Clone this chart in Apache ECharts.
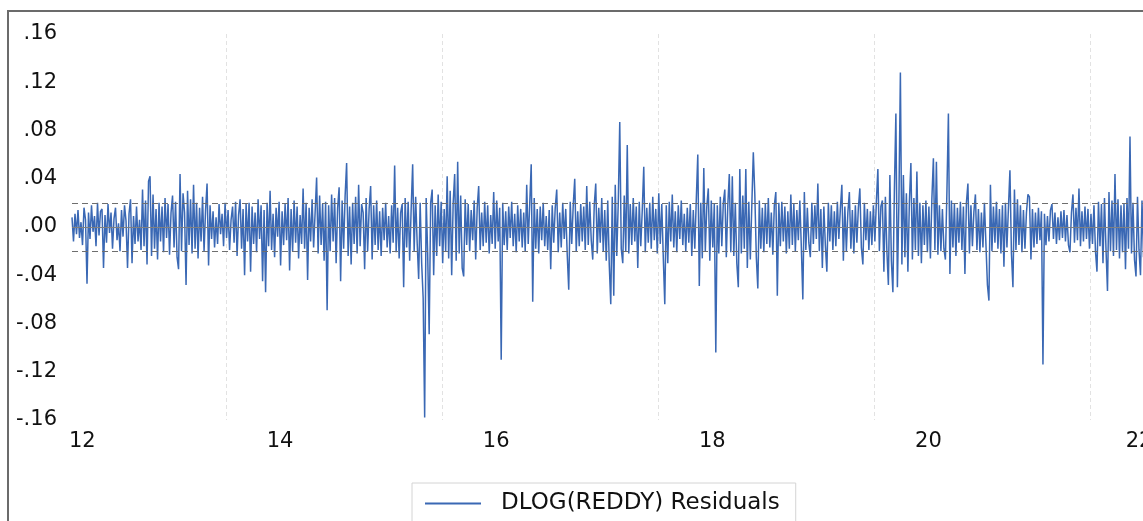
<!DOCTYPE html>
<html>
<head>
<meta charset="utf-8">
<script src="https://cdn.jsdelivr.net/npm/echarts@6/dist/echarts.min.js"></script>
<style>
  html, body { margin: 0; padding: 0; background: #fff; }
  #chart { width: 1143px; height: 521px; }
</style>
</head>
<body>
<div id="chart"></div>
<script>
// residuals, one value every ~3.5 trading days
const residuals = [
  .008,-.012,.011,-.006,.014,-.009,.004,-.015,.016,.006,-.047,.012,-.01,.018,-.004,.009,-.016,.02,-.007,.013,
  .015,-.034,.01,-.013,.019,-.005,.012,-.018,.007,.016,-.011,.003,-.02,.014,-.008,.018,.005,-.034,.011,.023,
  -.03,.009,-.014,.017,-.012,.006,-.019,.031,-.016,.022,-.031,.038,.042,-.024,.027,-.018,.015,-.027,.02,-.012,
  .017,-.021,.024,-.009,.019,-.023,.012,.026,-.017,.021,-.025,-.035,.044,-.02,.028,.012,-.048,.03,-.015,.023,
  -.022,.035,-.018,.02,-.026,.016,-.012,.025,-.02,.014,.036,-.032,.018,-.01,.013,-.017,.008,-.014,.019,-.006,
  .011,-.016,.02,-.009,.014,-.019,.006,.017,-.013,.021,-.024,.01,.023,-.018,.015,-.04,.019,-.012,.02,-.037,
  .017,-.014,.012,-.021,.023,-.01,.018,-.045,.014,-.054,.02,-.016,.03,-.019,.011,-.025,.016,-.008,.021,-.032,
  .013,-.015,.019,-.011,.024,-.036,.015,-.02,.022,-.013,.017,-.026,.01,-.014,.032,-.018,.02,-.044,.016,-.012,
  .023,-.017,.012,.041,-.022,.026,-.015,.019,-.028,.021,-.069,.018,-.02,.027,-.012,.024,-.03,.016,.033,-.045,
  .022,-.018,.026,.053,-.024,.017,-.031,.02,-.014,.025,-.022,.035,-.016,.019,.012,-.035,.024,-.02,.015,.034,
  -.027,.018,-.015,.022,-.019,.013,-.024,.016,-.011,.02,-.017,.009,-.022,.018,-.013,.051,-.021,.016,-.026,.012,
  .019,-.05,.024,-.017,.021,-.028,.015,.052,-.02,.025,-.013,-.043,.02,-.03,-.059,-.158,.024,-.022,-.089,.02,
  .031,-.04,.018,-.024,.027,-.016,.021,-.03,.015,-.02,.042,-.026,.03,-.04,.02,.044,-.028,.054,-.022,.026,
  -.034,-.041,.023,-.015,.019,-.02,.014,-.011,.022,-.027,.016,.034,-.019,.012,-.016,.021,-.013,.018,-.022,.01,
  -.014,.029,-.018,.022,-.012,.016,-.11,.02,-.015,.013,-.019,.017,-.009,.021,-.016,.011,-.021,.018,-.012,.015,
  -.017,.012,-.02,.035,-.014,.019,.052,-.062,.024,-.018,.015,-.022,.017,-.011,.02,-.016,.009,-.019,.014,-.035,
  .018,-.013,.016,.031,-.021,.012,-.017,.02,-.01,.015,-.023,-.052,.021,-.014,.018,.04,-.02,.013,-.016,.019,
  -.012,.017,-.019,.034,-.015,.021,-.011,-.027,.018,.036,-.022,.016,-.013,.024,-.02,.014,-.028,.022,-.031,-.064,
  .025,-.057,.035,-.024,.02,.087,-.018,-.03,.026,-.02,.068,-.022,.019,-.015,.024,-.012,.017,-.034,.021,-.016,
  .014,.05,-.021,.016,-.013,.02,-.018,.025,-.011,.015,-.022,.028,-.014,.019,-.025,-.064,.018,-.03,.021,-.012,
  .027,-.017,.013,-.021,.018,-.01,.022,-.015,.011,-.02,.016,-.013,.019,-.024,.014,-.018,.023,.06,-.049,.02,
  -.026,.049,-.02,.017,.032,-.028,.022,-.017,.019,-.104,.018,-.022,.025,-.016,.02,.031,-.025,.018,.044,-.021,
  .042,-.024,.02,-.03,-.05,.048,-.022,.026,-.018,.048,-.034,.021,-.027,.018,.062,.027,-.025,-.051,.022,-.018,
  .016,-.021,.019,-.014,.024,-.017,.012,-.023,.018,.029,-.057,.02,-.016,.021,-.012,.017,-.022,.013,-.018,.027,
  -.015,.019,-.02,.014,-.011,.022,-.017,-.06,.029,-.019,.016,-.013,-.025,.02,-.014,.018,-.01,.036,-.02,.015,
  -.034,.017,-.015,-.037,.02,-.012,.018,-.019,.013,-.016,.021,-.01,.015,.035,-.028,.017,-.02,.012,.029,-.018,
  .014,-.022,.018,-.013,.016,.032,-.017,-.031,.02,-.011,.015,-.019,.013,-.015,.018,-.012,.021,.048,-.02,.017,
  .022,-.037,.025,-.02,-.048,.043,-.028,-.054,.03,.094,-.05,.02,.128,-.031,.043,-.025,.028,-.037,.021,.053,
  -.027,.024,-.019,.046,-.024,.02,-.03,.018,-.015,.022,-.021,.017,-.026,.024,.057,-.019,.054,-.023,.018,-.02,
  .015,-.018,-.027,.029,.094,-.039,.022,-.017,.019,-.024,.016,-.013,.021,-.019,.017,-.039,.02,.036,-.022,.018,
  -.016,.013,.027,-.019,.015,-.021,.012,-.017,.02,-.014,-.048,-.061,.035,-.02,.017,-.013,.021,-.018,.015,-.022,
  .018,-.033,.02,-.017,.016,.047,-.022,-.05,.031,-.019,.023,-.015,.018,-.021,.014,-.018,.012,.027,.025,-.027,
  .015,-.017,.012,-.014,.016,-.011,.013,-.114,.011,-.015,.009,-.012,.014,.019,-.01,.012,-.014,.008,-.011,.013,
  -.009,.014,-.012,.01,-.015,-.021,.012,.027,-.013,.016,-.011,.032,-.016,.013,-.012,.017,-.01,.015,-.018,.011,
  -.014,.018,-.02,-.037,.021,-.016,.019,-.03,.024,-.018,-.053,.029,-.02,.022,-.024,.044,-.019,.023,-.026,.018,
  -.021,.019,-.035,.024,-.018,.075,-.022,.02,-.027,-.041,.025,-.019,-.04,.022,-.025,.018,-.02,.016
];

// sample runs from early 2012 to mid 2022
const startYear = 2012.574;
const yearStep = 0.013889;

// +/- one standard error band
const seBand = [0.0174, -0.0174];

const xLabelYears = [2012.67, 2014.5, 2016.5, 2018.5, 2020.5, 2022.45];
const xTickLabels = ['12', '14', '16', '18', '20', '22'];
const gridYears = [2014, 2016, 2018, 2020, 2022];

const yTickValues = [-0.16, -0.12, -0.08, -0.04, 0, 0.04, 0.08, 0.12, 0.16];
const yTickLabels = ['-.16', '-.12', '-.08', '-.04', '.00', '.04', '.08', '.12', '.16'];

const seriesName = 'DLOG(REDDY) Residuals';
const lineColor = '#3a68b4';
const font = 'DejaVu Sans';

const chart = echarts.init(document.getElementById('chart'));

const points = residuals.map((v, i) => [startYear + i * yearStep, v]);

const option = {
  animation: false,
  backgroundColor: '#fff',
  grid: {
    left: 72,
    right: -5,
    top: 34,
    bottom: 101,
    containLabel: false,
    outerBoundsMode: 'none'
  },
  xAxis: {
    type: 'value',
    min: startYear,
    max: startYear + (residuals.length - 1) * yearStep,
    axisLine: { show: false },
    axisTick: { show: false, customValues: gridYears },
    splitLine: {
      show: true,
      lineStyle: { color: '#e2e2e2', type: [4, 3], width: 1 }
    },
    axisLabel: {
      customValues: xLabelYears,
      fontFamily: font,
      fontSize: 21,
      color: '#111',
      margin: 11,
      formatter: function (v) {
        const k = xLabelYears.findIndex(y => Math.abs(y - v) < 0.01);
        return k < 0 ? '' : xTickLabels[k];
      }
    }
  },
  yAxis: {
    type: 'value',
    min: -0.16,
    max: 0.16,
    interval: 0.04,
    axisLine: { show: false },
    axisTick: { show: false },
    splitLine: { show: false },
    axisLabel: {
      fontFamily: font,
      fontSize: 21,
      color: '#111',
      margin: 15,
      formatter: function (v) {
        const k = yTickValues.findIndex(t => Math.abs(t - v) < 1e-6);
        return k < 0 ? '' : yTickLabels[k];
      }
    }
  },
  legend: {
    data: [seriesName],
    left: 412,
    top: 483,
    padding: [9, 16, 40, 13],
    icon: 'rect',
    itemWidth: 56,
    itemHeight: 2,
    itemStyle: { color: lineColor },
    borderColor: '#d4d4d4',
    borderWidth: 1,
    textStyle: {
      fontFamily: font,
      fontSize: 23,
      color: '#111',
      padding: [0, 0, 0, 15]
    }
  },
  graphic: [{
    type: 'rect',
    silent: true,
    z: 100,
    shape: { x: 8, y: 11, width: 1400, height: 800 },
    style: { fill: 'none', stroke: '#6b6b6b', lineWidth: 2 }
  }],
  series: [{
    name: seriesName,
    type: 'line',
    data: points,
    symbol: 'none',
    lineStyle: { color: lineColor, width: 1.5 },
    itemStyle: { color: lineColor },
    markLine: {
      silent: true,
      symbol: ['none', 'none'],
      label: { show: false },
      data: [
        { yAxis: 0, lineStyle: { color: '#808080', type: 'solid', width: 1 } },
        { yAxis: seBand[0], lineStyle: { color: '#6e6e6e', type: [6, 4], width: 1 } },
        { yAxis: seBand[1], lineStyle: { color: '#6e6e6e', type: [6, 4], width: 1 } }
      ]
    }
  }]
};

chart.setOption(option);
</script>
</body>
</html>
